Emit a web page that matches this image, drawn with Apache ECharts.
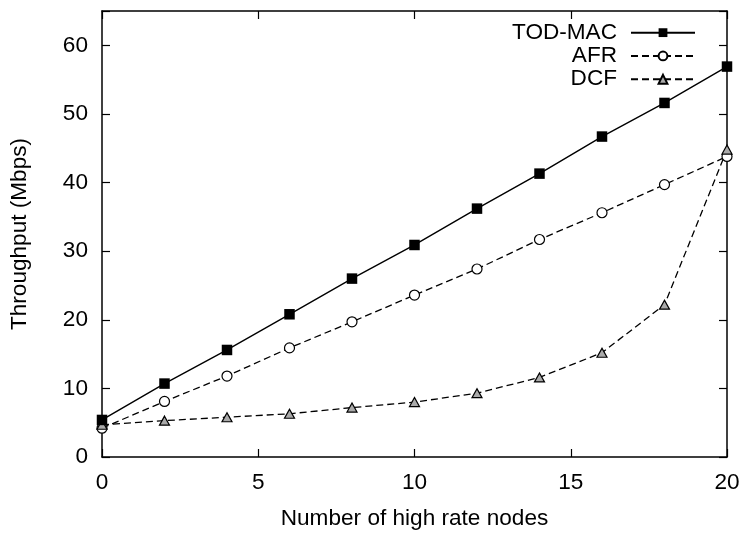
<!DOCTYPE html>
<html>
<head>
<meta charset="utf-8">
<script src="https://cdn.jsdelivr.net/npm/echarts@6/dist/echarts.min.js"></script>
<style>
html, body { margin: 0; padding: 0; background: #fff; }
#chart { width: 748px; height: 535px; }
</style>
</head>
<body>
<div id="chart"></div>
<script>
const nodes = [0, 2, 4, 6, 8, 10, 12, 14, 16, 18, 20];
const todMac = [5.4, 10.7, 15.6, 20.8, 26.0, 30.9, 36.2, 41.3, 46.7, 51.6, 56.9];
const afr = [4.2, 8.1, 11.8, 15.9, 19.7, 23.6, 27.4, 31.7, 35.6, 39.7, 43.8];
const dcf = [4.7, 5.3, 5.8, 6.3, 7.2, 8.0, 9.3, 11.6, 15.2, 22.2, 44.8];
const xTicks = [0, 5, 10, 15, 20];
const yTicks = [0, 10, 20, 30, 40, 50, 60];

const FONT = '"Liberation Sans", Arial, Helvetica, sans-serif';
const FS = 22.6;
const pairs = (ys) => nodes.map((x, i) => [x, ys[i]]);

const chart = echarts.init(document.getElementById('chart'), null, { renderer: 'canvas' });

const axisLineStyle = { color: '#000', width: 1.5 };
const tickStyle = { show: true, inside: true, length: 8, lineStyle: { color: '#000', width: 1.2 } };

chart.setOption({
  animation: false,
  backgroundColor: '#fff',
  grid: { left: 101, right: 21, top: 11, bottom: 71, containLabel: false },
  legend: {
    orient: 'vertical',
    right: 47,
    top: 16,
    align: 'right',
    itemWidth: 64,
    itemHeight: 11,
    itemGap: 0,
    selectedMode: false,
    textStyle: { fontFamily: FONT, fontSize: FS, color: '#000', lineHeight: 23.3, padding: [0, 9, 0, 0] },
    data: ['TOD-MAC', 'AFR', 'DCF']
  },
  xAxis: [
    {
      type: 'value', min: 0, max: 20, interval: 5,
      name: 'Number of high rate nodes', nameLocation: 'middle', nameGap: 50,
      nameTextStyle: { fontFamily: FONT, fontSize: FS, color: '#000' },
      axisLine: { show: true, onZero: false, lineStyle: axisLineStyle },
      axisTick: tickStyle,
      axisLabel: { fontFamily: FONT, fontSize: FS, color: '#000', margin: 14,
        formatter: (v) => xTicks.includes(v) ? String(v) : '' },
      splitLine: { show: false }
    },
    {
      type: 'value', min: 0, max: 20, interval: 5, position: 'top',
      axisLine: { show: true, onZero: false, lineStyle: axisLineStyle },
      axisTick: tickStyle,
      axisLabel: { show: false },
      splitLine: { show: false }
    }
  ],
  yAxis: [
    {
      type: 'value', min: 0, max: 65, interval: 10,
      name: 'Throughput (Mbps)', nameLocation: 'middle', nameGap: 71,
      nameTextStyle: { fontFamily: FONT, fontSize: FS, color: '#000' },
      axisLine: { show: true, onZero: false, lineStyle: axisLineStyle },
      axisTick: tickStyle,
      axisLabel: { fontFamily: FONT, fontSize: FS, color: '#000', margin: 14,
        formatter: (v) => yTicks.includes(v) ? String(v) : '' },
      splitLine: { show: false }
    },
    {
      type: 'value', min: 0, max: 65, interval: 10, position: 'right',
      axisLine: { show: true, onZero: false, lineStyle: axisLineStyle },
      axisTick: tickStyle,
      axisLabel: { show: false },
      splitLine: { show: false }
    }
  ],
  series: [
    {
      name: 'TOD-MAC', type: 'line', data: pairs(todMac),
      symbol: 'rect', symbolSize: 10.5, z: 3,
      lineStyle: { color: '#000', width: 1.4, type: 'solid' },
      itemStyle: { color: '#000', borderColor: '#000', borderWidth: 0 }
    },
    {
      name: 'AFR', type: 'line', data: pairs(afr),
      symbol: 'circle', symbolSize: 10, z: 2,
      lineStyle: { color: '#000', width: 1.3, type: [7, 4] },
      itemStyle: { color: '#fff', borderColor: '#000', borderWidth: 1.2 }
    },
    {
      name: 'DCF', type: 'line', data: pairs(dcf),
      symbol: 'triangle', symbolSize: [10, 9], z: 2,
      lineStyle: { color: '#000', width: 1.3, type: [7, 4] },
      itemStyle: { color: '#aaa', borderColor: '#000', borderWidth: 1.2 }
    }
  ]
});
</script>
</body>
</html>
